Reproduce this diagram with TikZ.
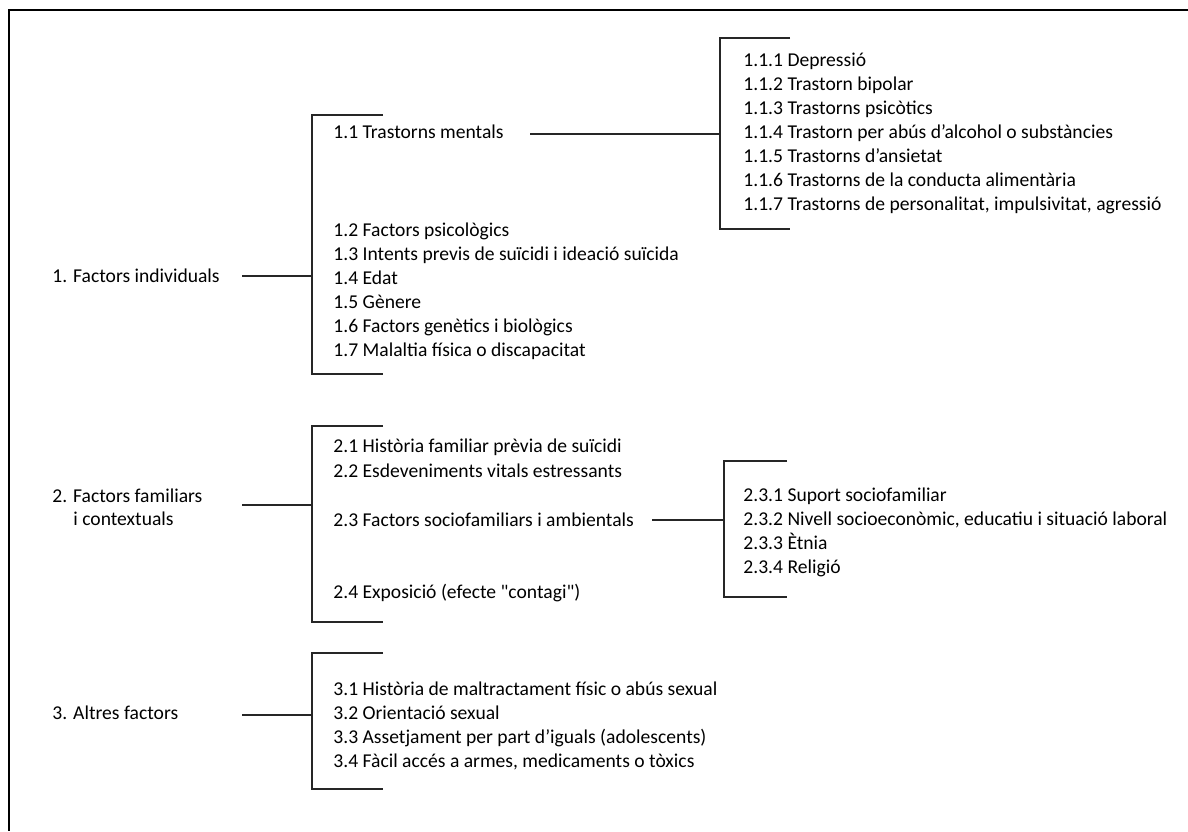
\documentclass[tikz,border=0pt]{standalone}
\usepackage{fontspec}
\setmainfont{Carlito}[Ligatures=TeXOff]
\usetikzlibrary{positioning}

\begin{document}
\begin{tikzpicture}[x=0.5pt,y=-0.5pt,
		every node/.style={inner sep=0pt,anchor=base west,font=\fontsize{9.8}{12}\selectfont},
		ln/.style={line width=0.6pt,black!85},
		frame/.style={line width=1.3pt}]
	\useasboundingbox (0,0) rectangle (1188,831);
	\draw[frame] (1188,10) -- (9,10) -- (9,831);
	
	% 1. factors individuals
	\node (f1) at (52,282) {1. Factors individuals};
	\coordinate (c1) at (242,276);
	\coordinate (b1) at (312,276);
	\draw[ln] (c1) -- (b1);
	\draw[ln] (383,115) -- (312,115) -- (312,374) -- (383,374);
	\node (t11) at (333,138) {1.1 Trastorns mentals};
	\foreach \t [count=\i from 2] in {1.2 Factors psicològics,
			1.3 Intents previs de suïcidi i ideació suïcida,
			1.4 Edat,
			1.5 Gènere,
			1.6 Factors genètics i biològics,
			1.7 Malaltia física o discapacitat}
		\node (t1\i) at (333,{236+24*(\i-2)}) {\t};
	\coordinate (c11) at (530,134);
	\coordinate (b11) at (720,134);
	\draw[ln] (c11) -- (b11);
	\draw[ln] (790,38) -- (720,38) -- (720,229) -- (790,229);
	\foreach \t [count=\i] in {1.1.1 Depressió,
			1.1.2 Trastorn bipolar,
			1.1.3 Trastorns psicòtics,
			1.1.4 Trastorn per abús d’alcohol o substàncies,
			1.1.5 Trastorns d’ansietat,
			1.1.6 Trastorns de la conducta alimentària,
			{1.1.7 Trastorns de personalitat, impulsivitat, agressió}}
		\node (t11\i) at (743,{66+24*(\i-1)}) {\t};
	
	% 2. factors familiars i contextuals
	\node (f2) at (52,502) {2. Factors familiars};
	\node (f2b) at (73,525) {i contextuals};
	\coordinate (c2) at (242,505);
	\coordinate (b2) at (312,505);
	\draw[ln] (c2) -- (b2);
	\draw[ln] (383,426) -- (312,426) -- (312,622) -- (383,622);
	\node (t21) at (333,452) {2.1 Història familiar prèvia de suïcidi};
	\node (t22) at (333,477) {2.2 Esdeveniments vitals estressants};
	\node (t23) at (333,526) {2.3 Factors sociofamiliars i ambientals};
	\node (t24) at (333,598) {2.4 Exposició (efecte "contagi")};
	\coordinate (c23) at (652,520);
	\coordinate (b23) at (724,520);
	\draw[ln] (c23) -- (b23);
	\draw[ln] (787,461) -- (724,461) -- (724,597) -- (787,597);
	\foreach \t [count=\i] in {2.3.1 Suport sociofamiliar,
			{2.3.2 Nivell socioeconòmic, educatiu i situació laboral},
			2.3.3 Ètnia,
			2.3.4 Religió}
		\node (t23\i) at (743,{501+24*(\i-1)}) {\t};
	
	% 3. altres factors
	\node (f3) at (52,719) {3. Altres factors};
	\coordinate (c3) at (242,715);
	\coordinate (b3) at (312,715);
	\draw[ln] (c3) -- (b3);
	\draw[ln] (383,653) -- (312,653) -- (312,789) -- (383,789);
	\foreach \t [count=\i] in {3.1 Història de maltractament físic o abús sexual,
			3.2 Orientació sexual,
			3.3 Assetjament per part d’iguals (adolescents),
			{3.4 Fàcil accés a armes, medicaments o tòxics}}
		\node (t3\i) at (333,{695+24*(\i-1)}) {\t};
\end{tikzpicture}
\end{document}
